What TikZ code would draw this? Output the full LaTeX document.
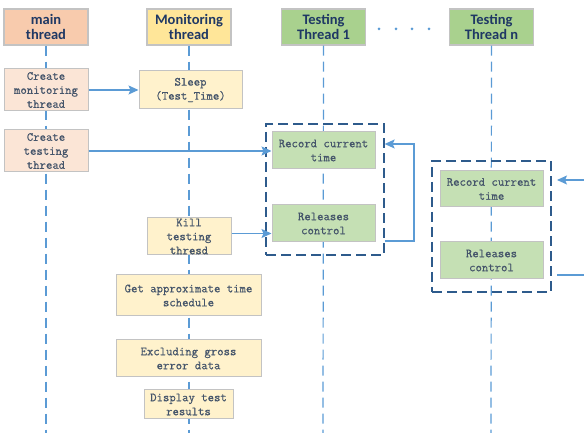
\documentclass[tikz,border=0pt]{standalone}
\usepackage{fontspec}
\newfontfamily\headfont{Carlito}
\newfontfamily\stepfont[FakeBold=0.6]{Latin Modern Mono}
\usetikzlibrary{arrows.meta,calc}

\definecolor{lifeblue}{HTML}{5B9BD5}
\definecolor{frameblue}{HTML}{2E5B8C}
\definecolor{edgegray}{HTML}{C3C3C3}
\definecolor{headtext}{HTML}{1F3864}
\definecolor{bodytext}{HTML}{44546A}
\definecolor{mainhead}{HTML}{F8CBAD}
\definecolor{monhead}{HTML}{FFE699}
\definecolor{testhead}{HTML}{A9D18E}
\definecolor{mainbox}{HTML}{FBE5D6}
\definecolor{monbox}{HTML}{FFF2CC}
\definecolor{testbox}{HTML}{C5E0B4}

\tikzset{
  header/.style={draw=edgegray, line width=1.2pt, inner sep=0pt, align=center,
    minimum width=84pt, minimum height=36pt, text=headtext,
    font=\headfont\bfseries\fontsize{14.5}{15}\selectfont},
  stepbox/.style={draw=edgegray, line width=1pt, inner sep=0pt, align=center,
    text=bodytext, font=\stepfont\fontsize{12.4}{14}\selectfont},
  lifeline/.style={draw=lifeblue, line width=1.2pt, dash pattern=on 10pt off 6pt},
  framebox/.style={draw=frameblue, line width=1.3pt, dash pattern=on 10pt off 5pt, inner sep=0pt},
  msg/.style={draw=lifeblue, line width=1.2pt,
    -{Stealth[length=10pt,width=9pt,inset=2pt]}},
  plainmsg/.style={draw=lifeblue, line width=1.2pt},
}

\begin{document}
\begin{tikzpicture}[x=1pt, y=-1pt]
\useasboundingbox (0,0) rectangle (584,435);

% thread headers
\node[header, fill=mainhead] (hmain) at (46,27) {main\\thread};
\node[header, fill=monhead]  (hmon)  at (189,27) {Monitoring\\thread};
\node[header, fill=testhead] (ht1)   at (323.5,27) {Testing\\Thread 1};
\node[header, fill=testhead] (htn)   at (491.5,27) {Testing\\Thread n};

% ellipsis between the testing threads
\foreach \px in {379,396,412,429}
  \fill[lifeblue] (\px,29) circle (1.5pt);

% lifelines
\coordinate (emain) at (46,433);
\coordinate (emon)  at (189,433);
\coordinate (et1)   at (323,433);
\coordinate (etn)   at (491,433);
\draw[lifeline] (hmain.south) -- (emain);
\draw[lifeline] (hmon.south)  -- (emon);
\draw[lifeline] (ht1.south)   -- (et1);
\draw[lifeline] (htn.south)   -- (etn);

% dashed frames around the testing thread steps
\node[framebox, minimum width=118pt, minimum height=131pt] (frame1) at (325,189.5) {};
\node[framebox, minimum width=119pt, minimum height=131pt] (framen) at (491.5,226.5) {};

% main thread steps
\node[stepbox, fill=mainbox, minimum width=84pt, minimum height=42pt] (cmon) at (46,90) {Create\\monitoring\\thread};
\node[stepbox, fill=mainbox, minimum width=84pt, minimum height=42pt] (ctest) at (46,151) {Create\\testing\\thread};

% monitoring thread steps
\node[stepbox, fill=monbox, minimum width=103pt, minimum height=38pt] (sleep) at (190.5,90) {Sleep\\(Test\_Time)};
\node[stepbox, fill=monbox, minimum width=84pt, minimum height=37pt] (kill) at (189,236.5) {Kill\\testing\\thresd};
\node[stepbox, fill=monbox, minimum width=145pt, minimum height=41pt] (sched) at (188.5,295.5) {Get approximate time\\schedule};
\node[stepbox, fill=monbox, minimum width=145pt, minimum height=37pt] (gross) at (188.5,358.5) {Excluding gross\\error data};
\node[stepbox, fill=monbox, minimum width=89pt, minimum height=29pt] (disp) at (188.5,404.5) {Display test\\results};

% testing thread 1 steps
\node[stepbox, fill=testbox, minimum width=103pt, minimum height=37pt] (rec1) at (323.5,150.5) {Record current\\time};
\node[stepbox, fill=testbox, minimum width=103pt, minimum height=37pt] (rel1) at (323.5,223.5) {Releases\\control};

% testing thread n steps
\node[stepbox, fill=testbox, minimum width=103pt, minimum height=36pt] (recn) at (491.5,189) {Record current\\time};
\node[stepbox, fill=testbox, minimum width=103pt, minimum height=37pt] (reln) at (491.5,260.5) {Releases\\control};

% messages
\draw[msg] (cmon.east) -- (sleep.west);
\draw[msg] (ctest.east) -- (ctest.east -| rec1.west);
\draw[msg] ([yshift=3pt]kill.east) -- ([yshift=3pt]kill.east -| rel1.west);

% loop back from releasing control to recording the time
\draw[msg] (frame1.east |- 0,241) -- (414,241) -- (414,144) -- (frame1.east |- 0,144);

% loop of thread n, entering and leaving at the right edge
\coordinate (inn)  at (584,180);
\coordinate (outn) at (584,275);
\draw[msg] (inn) -- (557,180);
\draw[plainmsg] (557,275) -- (outn);
\end{tikzpicture}
\end{document}
